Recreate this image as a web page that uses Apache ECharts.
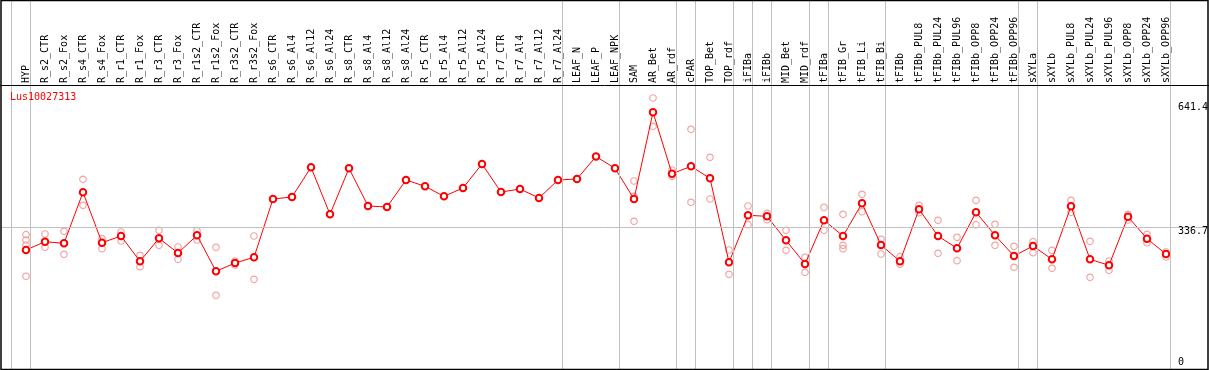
<!DOCTYPE html>
<html><head><meta charset="utf-8">
<script src="https://cdn.jsdelivr.net/npm/echarts@6/dist/echarts.min.js"></script>
<style>html,body{margin:0;padding:0;background:#fff}#c{width:1209px;height:370px}</style>
</head><body><div id="c"></div>
<script>
const categories = ['HYP','R_s2_CTR','R_s2_Fox','R_s4_CTR','R_s4_Fox','R_r1_CTR','R_r1_Fox','R_r3_CTR','R_r3_Fox','R_r1s2_CTR','R_r1s2_Fox','R_r3s2_CTR','R_r3s2_Fox','R_s6_CTR','R_s6_Al4','R_s6_Al12','R_s6_Al24','R_s8_CTR','R_s8_Al4','R_s8_Al12','R_s8_Al24','R_r5_CTR','R_r5_Al4','R_r5_Al12','R_r5_Al24','R_r7_CTR','R_r7_Al4','R_r7_Al12','R_r7_Al24','LEAF_N','LEAF_P','LEAF_NPK','SAM','AR_Bet','AR_rdf','cPAR','TOP_Bet','TOP_rdf','iFIBa','iFIBb','MID_Bet','MID_rdf','tFIBa','tFIB_Gr','tFIB_Li','tFIB_Bi','tFIBb','tFIBb_PUL8','tFIBb_PUL24','tFIBb_PUL96','tFIBb_OPP8','tFIBb_OPP24','tFIBb_OPP96','sXYLa','sXYLb','sXYLb_PUL8','sXYLb_PUL24','sXYLb_PUL96','sXYLb_OPP8','sXYLb_OPP24','sXYLb_OPP96'];
const meanValues = [283.0,302.5,298.8,419.0,300.2,316.0,256.3,310.6,275.9,317.6,232.7,252.3,265.8,403.2,408.0,478.0,367.2,475.6,386.7,384.4,448.0,433.2,409.6,429.2,485.8,419.7,426.8,405.6,448.0,450.4,503.5,475.6,403.2,607.7,462.9,480.3,452.0,254.0,364.8,362.4,305.8,250.0,353.0,316.0,393.1,294.8,256.3,379.0,316.0,287.0,371.9,317.6,268.8,292.4,261.0,386.0,261.0,246.9,361.5,309.6,273.5];
const replicateValues = [
  [319.1,306.6,294.8,221.0],[320.7,289.3],[327.1,272.8],[449.7,388.4],[309.6,286.0],[325.4,304.2],[270.5,243.6],[329.4,294.1],[290.0,261.0],[328.5,306.6],[289.3,176.2],[257.0,247.6],[316.0,213.9],
  [],[],[],[],[],[],[],[],[],[],[],[],[],[],[],[],[],[],[],
  [445.7,409.6,350.7],[641.4,574.7],[471.6,456.8],[567.6,395.5],[501.6,403.2],[283.0,225.7],[386.7,342.6],[369.5,354.4],[329.4,282.3],[265.8,230.4],[383.7,329.4],[367.2,294.1,286.0],[414.3,373.3],[308.2,273.5],[267.2,249.3],[388.4,370.9],[353.0,275.2],[312.9,257.7],[400.2,342.6],[343.6,294.1],[291.7,242.2],[302.5,276.6],[282.3,239.8],[400.2,371.9],[303.5,218.6],[257.0,235.1],[367.2,353.7],[320.0,300.2],[278.3,266.5]
];
const groupEnds = [-1,0,28,31,34,35,37,38,39,41,42,45,52,53,60];
const yTickValues = [0,336.7,641.4];
const midLineValue = 336.7;
const geneName = 'Lus10027313';

// layout constants
const W = 1209, H = 370, headerH = 85, step = 19, firstX = 26, topValueY = 98;
const topValue = yTickValues[yTickValues.length - 1];
const yMax = topValue * (H - headerH) / (H - topValueY);
const xMin = (1 - firstX) / step, xMax = (W - 1 - firstX) / step;
const sepOffset = 4.5 / step;
const FONT = 'DejaVu Sans Mono';
const GRAY = '#c0c0c0';

const chart = echarts.init(document.getElementById('c'), null, {renderer: 'canvas'});
const sepLines = groupEnds.map(e => ({xAxis: e + sepOffset}));
const repData = [];
replicateValues.forEach((arr, i) => arr.forEach(v => repData.push([i, v])));

chart.setOption({
  animation: false,
  backgroundColor: '#fff',
  grid: [
    {left: 1, right: 1, top: headerH, bottom: 0},
    {left: 1, right: 1, top: 0, height: headerH},
    {left: firstX - step / 2, width: step * categories.length, top: headerH, height: 1}
  ],
  xAxis: [
    {type: 'value', gridIndex: 0, min: xMin, max: xMax, show: false},
    {type: 'value', gridIndex: 1, min: xMin, max: xMax, show: false},
    {type: 'category', gridIndex: 2, position: 'top', data: categories,
     axisLine: {show: false}, axisTick: {show: false}, splitLine: {show: false},
     axisLabel: {rotate: 90, interval: 0, margin: 2, fontFamily: FONT, fontSize: 10, color: '#000'}}
  ],
  yAxis: [
    {type: 'value', gridIndex: 0, min: 0, max: yMax, show: false},
    {type: 'value', gridIndex: 1, min: 0, max: 1, show: false},
    {type: 'value', gridIndex: 2, min: 0, max: 1, show: false}
  ],
  series: [
    {type: 'line', xAxisIndex: 1, yAxisIndex: 1, data: [], silent: true,
     markLine: {silent: true, symbol: ['none', 'none'], label: {show: false}, animation: false,
       lineStyle: {color: GRAY, width: 1, type: 'solid'}, data: sepLines}},
    {type: 'scatter', xAxisIndex: 0, yAxisIndex: 0, data: repData, z: 2,
     symbol: 'circle', symbolSize: 6.5,
     itemStyle: {color: 'rgba(0,0,0,0)', borderColor: '#f08c8c', borderWidth: 1.2},
     markLine: {silent: true, symbol: ['none', 'none'], label: {show: false}, animation: false,
       lineStyle: {color: GRAY, width: 1, type: 'solid'},
       data: sepLines.concat([{yAxis: midLineValue}])}},
    {type: 'line', xAxisIndex: 0, yAxisIndex: 0, data: meanValues.map((v, i) => [i, v]), z: 3,
     symbol: 'emptyCircle', symbolSize: 6.5, showAllSymbol: true,
     lineStyle: {color: '#ff0000', width: 1},
     itemStyle: {color: '#ff0000', borderColor: '#ff0000', borderWidth: 1.3}}
  ]
});

const labelOffsets = [-8, 4, 9];
const g = [
  {type: 'rect', shape: {x: 1, y: 0.5, width: W - 2, height: H - 1}, style: {fill: 'none', stroke: '#000', lineWidth: 1.5}, z: 100},
  {type: 'line', shape: {x1: 0, y1: headerH + 0.5, x2: W, y2: headerH + 0.5}, style: {stroke: '#000', lineWidth: 1}, z: 100},
  {type: 'text', x: 10, y: chart.convertToPixel({yAxisIndex: 0}, topValue) - 1, z: 100,
   style: {text: geneName, fill: '#ff0000', font: '10px ' + FONT, textVerticalAlign: 'middle'}}
];
yTickValues.forEach((v, k) => {
  g.push({type: 'text', x: 1178, y: chart.convertToPixel({yAxisIndex: 0}, v) + labelOffsets[k], z: 100,
    style: {text: String(v), fill: '#000', font: '10px ' + FONT, textVerticalAlign: 'middle'}});
});
chart.setOption({graphic: g});
</script>
</body></html>
